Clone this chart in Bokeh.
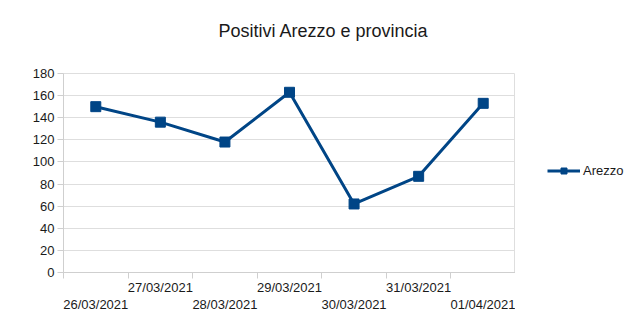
from bokeh.plotting import figure
from bokeh.layouts import row
from bokeh.models import (LinearAxis, FixedTicker, Range1d, Legend, LegendItem, Title, ColumnDataSource)
from bokeh.embed import file_html
from bokeh.resources import INLINE

dates = ["26/03/2021", "27/03/2021", "28/03/2021", "29/03/2021",
         "30/03/2021", "31/03/2021", "01/04/2021"]
values = [150, 136, 118, 163, 62, 87, 153]
series_name = "Arezzo"
title_text = "Positivi Arezzo e provincia"
y_ticks = [0, 20, 40, 60, 80, 100, 120, 140, 160, 180]

xs = list(range(len(dates)))
src = ColumnDataSource(dict(x=xs, y=values))

FONT = "Liberation Sans"
COLOR = "#004586"
TXT = "#1a1a1a"
AX = "#cfcfcf"
GRID = "#dedede"

p = figure(width=515, height=328, output_backend="svg", toolbar_location=None,
           x_range=Range1d(-0.5, len(dates) - 0.5), y_range=Range1d(0, 180),
           min_border_left=63, min_border_right=0, min_border_top=73,
           min_border_bottom=56, x_axis_location=None, y_axis_location=None)
p.background_fill_color = "white"
p.border_fill_color = "white"
p.outline_line_color = GRID

# second (blank) line only raises the title above the plot area
t = Title(text=title_text + "\n ", align="left", offset=155, standoff=26,
          text_font=FONT, text_font_size="18px", text_font_style="normal",
          text_color=TXT)
p.add_layout(t, "above")

# y axis
ya = LinearAxis(ticker=FixedTicker(ticks=y_ticks))
ya.axis_line_color = AX
ya.major_tick_line_color = AX
ya.major_tick_out = 6
ya.major_tick_in = 0
ya.minor_tick_line_color = None
ya.major_label_text_font = FONT
ya.major_label_text_font_size = "13px"
ya.major_label_text_color = TXT
ya.major_label_standoff = 3
p.add_layout(ya, "left")

bounds = [i - 0.5 for i in range(len(dates) + 1)]
upper = [i for i in xs if i % 2 == 1]
lower = [i for i in xs if i % 2 == 0]

xa1 = LinearAxis(ticker=FixedTicker(ticks=upper, minor_ticks=bounds))
xa1.major_label_overrides = {i: dates[i] for i in upper}
xa1.axis_line_color = AX
xa1.major_tick_line_color = None
xa1.major_tick_out = 0
xa1.major_tick_in = 0
xa1.minor_tick_line_color = AX
xa1.minor_tick_out = 6
xa1.minor_tick_in = 0
xa1.major_label_standoff = 1
xa1.major_label_text_font = FONT
xa1.major_label_text_font_size = "13px"
xa1.major_label_text_color = TXT
p.add_layout(xa1, "below")

xa2 = LinearAxis(ticker=FixedTicker(ticks=lower))
xa2.major_label_overrides = {i: dates[i] for i in lower}
xa2.axis_line_color = None
xa2.major_tick_line_color = None
xa2.minor_tick_line_color = None
xa2.major_tick_out = 0
xa2.major_tick_in = 0
xa2.major_label_standoff = -1
xa2.major_label_text_font = FONT
xa2.major_label_text_font_size = "13px"
xa2.major_label_text_color = TXT
p.add_layout(xa2, "below")

p.xgrid.visible = False
p.ygrid.ticker = FixedTicker(ticks=y_ticks)
p.ygrid.grid_line_color = GRID

ln = p.line("x", "y", source=src, line_color=COLOR, line_width=3)
mk = p.scatter("x", "y", source=src, marker="square", size=10,
               fill_color=COLOR, line_color=COLOR)

# legend panel on the right (its renderers share the data but lie outside its ranges)
p2 = figure(width=125, height=328, output_backend="svg", toolbar_location=None,
            x_range=Range1d(1000, 1001), y_range=Range1d(1000, 1001), min_border=0,
            x_axis_location=None, y_axis_location=None)
p2.outline_line_color = None
p2.grid.visible = False
p2.background_fill_color = "white"
p2.border_fill_color = "white"
ln2 = p2.line("x", "y", source=src, line_color=COLOR, line_width=3)
mk2 = p2.scatter("x", "y", source=src, marker="square", size=9,
                 fill_color=COLOR, line_color=COLOR)

legend = Legend(items=[LegendItem(label=series_name, renderers=[ln2, mk2])],
                location=(32, 94), orientation="vertical",
                label_text_font=FONT, label_text_font_size="13px",
                label_text_color=TXT, glyph_width=33, glyph_height=15,
                label_standoff=3, padding=0, margin=0, border_line_color=None,
                background_fill_alpha=0)
p2.add_layout(legend)

layout = row(p, p2)
open("out.html", "w").write(file_html(layout, INLINE))
